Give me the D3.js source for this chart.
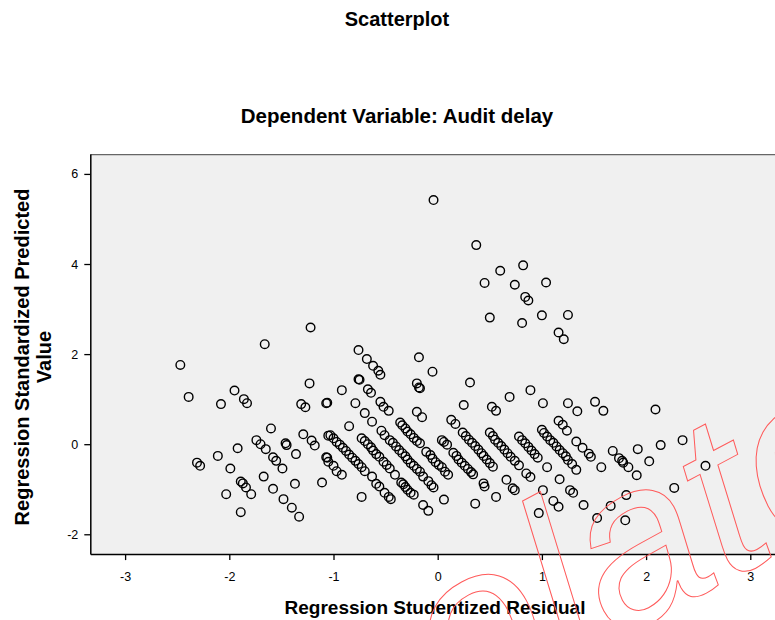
<!DOCTYPE html>
<html><head><meta charset="utf-8">
<script src="https://cdn.jsdelivr.net/npm/d3@7"></script>
<style>html,body{margin:0;padding:0;background:#fff;overflow:hidden}</style>
</head><body>
<svg id="chart" width="775" height="620"></svg>
<script>
const chartTitle = "Scatterplot";
const chartSubtitle = "Dependent Variable: Audit delay";
const xTitle = "Regression Studentized Residual";
const yTitleLines = ["Regression Standardized Predicted", "Value"];
const xTicks = [-3, -2, -1, 0, 1, 2, 3];
const yTicks = [-2, 0, 2, 4, 6];
const xDomain = [-3.334, 3.334];
const yDomain = [-2.44, 6.44];
const watermarkText = "olato";

// [Regression Studentized Residual, Regression Standardized Predicted Value]
const upperPoints = [[-0.04,5.42],[0.37,4.42],[0.45,3.58],[0.60,3.85],[0.82,3.97],[0.74,3.54],[1.04,3.59],[0.84,3.27],[0.87,3.19],[0.50,2.81],[0.81,2.69],[1.00,2.86],[1.25,2.87],[1.16,2.48],[1.21,2.33],
[-1.22,2.59],[-1.66,2.22],[-2.47,1.76],[-2.39,1.05],[-2.08,0.89],[-1.95,1.19],[-1.86,1.00],[-1.83,0.91],[-1.23,1.35],[-1.31,0.89],[-1.27,0.82],[-1.07,0.91],[-1.06,0.92],
[-0.76,2.09],[-0.68,1.89],[-0.62,1.74],[-0.57,1.63],[-0.55,1.54],[-0.18,1.93],[-0.05,1.61],[-0.76,1.44],[-0.75,1.43],[-0.92,1.20],[-0.67,1.22],[-0.64,1.14],[-0.20,1.35],[-0.18,1.26],[-0.17,1.24],[0.31,1.37],[0.69,1.05],[0.89,1.20],[1.01,0.91],[1.25,0.91],[1.34,0.73],[1.51,0.94],[1.59,0.74],[2.09,0.77],[0.25,0.87],[0.52,0.83],[0.56,0.74]];
const rightPoints = [[2.35,0.09],[2.57,-0.48],[2.14,-0.02],[1.92,-0.11],[2.03,-0.38],[2.27,-0.97],[1.81,-1.13],[1.66,-1.37],[1.80,-1.69],[1.53,-1.64],[1.40,-1.35],[1.27,-1.02],[1.30,-1.08],[1.17,-0.78],[1.11,-1.26],[1.16,-1.39],[0.97,-1.53],[1.01,-1.02],[1.05,-0.51],[0.56,-1.17],[0.36,-1.32],[0.06,-1.23],[0.72,-0.98],[0.74,-1.02],[0.66,-0.79],[0.44,-0.87],[0.45,-0.94],[0.13,0.54],[0.17,0.45],[1.16,0.52],[1.20,0.43],[1.24,0.30],[1.33,0.06],[1.39,-0.08],[1.45,-0.21],[1.47,-0.28],[1.57,-0.51],[1.68,-0.15],[1.74,-0.31],[1.77,-0.37],[1.78,-0.41],[1.83,-0.51],[1.91,-0.69]];
const leftBands = [[-2.31,-0.41],[-2.28,-0.48],[-2.03,-1.11],[-1.89,-1.51],
[-2.11,-0.26],[-1.99,-0.54],[-1.89,-0.83],[-1.87,-0.87],[-1.84,-0.96],[-1.79,-1.11],
[-1.92,-0.09],[-1.67,-0.72],[-1.58,-0.99],[-1.48,-1.22],[-1.40,-1.41],[-1.33,-1.61],
[-1.74,0.09],[-1.70,0.00],[-1.65,-0.11],[-1.58,-0.29],[-1.55,-0.37],[-1.49,-0.54],[-1.37,-0.88],
[-1.60,0.35],[-1.46,0.02],[-1.45,-0.02],[-1.36,-0.22],[-1.11,-0.85],
[-1.29,0.22],[-1.21,0.08],[-1.18,-0.03],[-1.07,-0.29],[-1.06,-0.30],[-1.05,-0.39],[-1.00,-0.48],[-0.97,-0.60],[-0.92,-0.68],[-0.73,-1.17]];
const bandA = [[-1.05,0.19],[-1.03,0.20],[-1.00,0.13],[-0.97,0.05],[-0.94,-0.01],[-0.91,-0.08],[-0.88,-0.15],[-0.85,-0.23],[-0.82,-0.30],[-0.79,-0.37],[-0.76,-0.44],[-0.73,-0.51],[-0.70,-0.60],[-0.63,-0.72],[-0.59,-0.88],[-0.56,-0.94],[-0.51,-1.08],[-0.47,-1.17],[-0.45,-1.22]];
const bandB = [[-0.85,0.40],[-0.73,0.13],[-0.70,0.07],[-0.67,0.00],[-0.64,-0.07],[-0.62,-0.14],[-0.59,-0.22],[-0.56,-0.28],[-0.52,-0.39],[-0.49,-0.46],[-0.46,-0.54],[-0.41,-0.68],[-0.35,-0.85],[-0.33,-0.89],[-0.31,-0.95],[-0.29,-1.01],[-0.26,-1.08],[-0.23,-1.12],[-0.14,-1.35],[-0.09,-1.48]];
const bandC = [[-0.79,0.91],[-0.70,0.69],[-0.63,0.50],[-0.54,0.30],[-0.51,0.20],[-0.46,0.09],[-0.43,0.03],[-0.40,-0.05],[-0.37,-0.13],[-0.34,-0.20],[-0.31,-0.27],[-0.29,-0.34],[-0.26,-0.42],[-0.23,-0.48],[-0.20,-0.55],[-0.17,-0.61],[-0.14,-0.72],[-0.09,-0.82],[-0.06,-0.91],[-0.04,-0.96]];
const bandD = [[-0.55,0.94],[-0.52,0.83],[-0.47,0.74],[-0.36,0.48],[-0.34,0.42],[-0.31,0.35],[-0.29,0.28],[-0.26,0.22],[-0.23,0.14],[-0.20,0.07],[-0.17,0.02],[-0.11,-0.17],[-0.07,-0.24],[-0.05,-0.32],[-0.02,-0.40],[0.01,-0.46],[0.04,-0.51],[0.07,-0.61],[0.10,-0.68]];
const bandE = [[-0.20,0.72],[-0.15,0.60],[0.04,0.09],[0.06,0.05],[0.09,-0.01],[0.15,-0.19],[0.18,-0.26],[0.20,-0.34],[0.23,-0.41],[0.26,-0.48],[0.29,-0.55],[0.32,-0.62],[0.34,-0.67]];
const bandF = [[0.24,0.26],[0.27,0.18],[0.30,0.10],[0.33,0.03],[0.36,-0.04],[0.39,-0.12],[0.42,-0.20],[0.44,-0.26],[0.47,-0.34],[0.50,-0.42],[0.53,-0.50]];
const bandG = [[0.50,0.26],[0.53,0.18],[0.55,0.10],[0.58,0.03],[0.61,-0.04],[0.64,-0.12],[0.67,-0.20],[0.70,-0.28],[0.74,-0.37],[0.78,-0.47],[0.85,-0.65],[0.89,-0.73]];
const bandH = [[0.78,0.17],[0.81,0.09],[0.84,0.02],[0.87,-0.06],[0.90,-0.14],[0.93,-0.22],[0.96,-0.30]];
const bandI = [[1.00,0.32],[1.02,0.25],[1.05,0.17],[1.08,0.09],[1.11,0.03],[1.14,-0.05],[1.17,-0.13],[1.20,-0.20],[1.23,-0.27],[1.25,-0.35],[1.29,-0.44],[1.33,-0.57]];

const allPoints = [].concat(upperPoints, rightPoints, leftBands, bandA, bandB, bandC, bandD, bandE, bandF, bandG, bandH, bandI);

const FONT = "Arial, 'Liberation Sans', Helvetica, sans-serif";
const svg = d3.select("#chart");
const plotL = 90.3, plotR = 785.1, plotT = 154.1, plotB = 554.1;
const x = d3.scaleLinear().domain(xDomain).range([plotL, plotR]);
const y = d3.scaleLinear().domain(yDomain).range([plotB, plotT]);

// plot background
svg.append("rect").attr("x", plotL).attr("y", plotT).attr("width", plotR - plotL).attr("height", plotB - plotT)
  .attr("fill", "#f0f0f0");
svg.append("line").attr("x1", plotL).attr("x2", plotR).attr("y1", plotT + 0.5).attr("y2", plotT + 0.5)
  .attr("stroke", "#666").attr("stroke-width", 1.2);

// points
svg.append("g").selectAll("circle").data(allPoints).join("circle")
  .attr("cx", d => x(d[0])).attr("cy", d => y(d[1])).attr("r", 4.3)
  .attr("fill", "none").attr("stroke", "#000").attr("stroke-width", 1.4);

// axes
const xAxis = svg.append("g").attr("transform", `translate(0,${plotB})`)
  .call(d3.axisBottom(x).tickValues(xTicks).tickSize(6).tickSizeOuter(0).tickPadding(12).tickFormat(d3.format("d")));
const yAxis = svg.append("g").attr("transform", `translate(${plotL},0)`)
  .call(d3.axisLeft(y).tickValues(yTicks).tickSize(6).tickSizeOuter(0).tickPadding(6).tickFormat(d3.format("d")));
[xAxis, yAxis].forEach(a => {
  a.select(".domain").attr("stroke", "#000").attr("stroke-width", 1.5);
  a.selectAll(".tick line").attr("stroke", "#000").attr("stroke-width", 1.3);
  a.selectAll(".tick text").attr("font-family", FONT).attr("font-size", 12.5).attr("fill", "#000");
});
xAxis.selectAll(".tick text").text(d => d < 0 ? "-" + Math.abs(d) : d);
yAxis.selectAll(".tick text").text(d => d < 0 ? "-" + Math.abs(d) : d);

// titles
svg.append("text").attr("x", 397).attr("y", 26).attr("text-anchor", "middle")
  .attr("font-family", FONT).attr("font-weight", "bold").attr("font-size", 20).text(chartTitle);
svg.append("text").attr("x", 397).attr("y", 123).attr("text-anchor", "middle")
  .attr("font-family", FONT).attr("font-weight", "bold").attr("font-size", 20.5).text(chartSubtitle);
svg.append("text").attr("x", 435).attr("y", 614).attr("text-anchor", "middle")
  .attr("font-family", FONT).attr("font-weight", "bold").attr("font-size", 19).text(xTitle);
const yt = svg.append("text").attr("transform", "translate(0,357) rotate(-90)").attr("text-anchor", "middle")
  .attr("font-family", FONT).attr("font-weight", "bold").attr("font-size", 20);
yt.append("tspan").attr("x", 0).attr("y", 29).text(yTitleLines[0]);
yt.append("tspan").attr("x", 0).attr("y", 51).text(yTitleLines[1]);

// watermark
svg.append("text").attr("transform", "translate(456,725) rotate(-28)")
  .attr("font-family", FONT).attr("font-style", "italic").attr("font-size", 230)
  .attr("fill", "none").attr("stroke", "#ff5a5a").attr("stroke-width", 1).text(watermarkText);
</script>
</body></html>
